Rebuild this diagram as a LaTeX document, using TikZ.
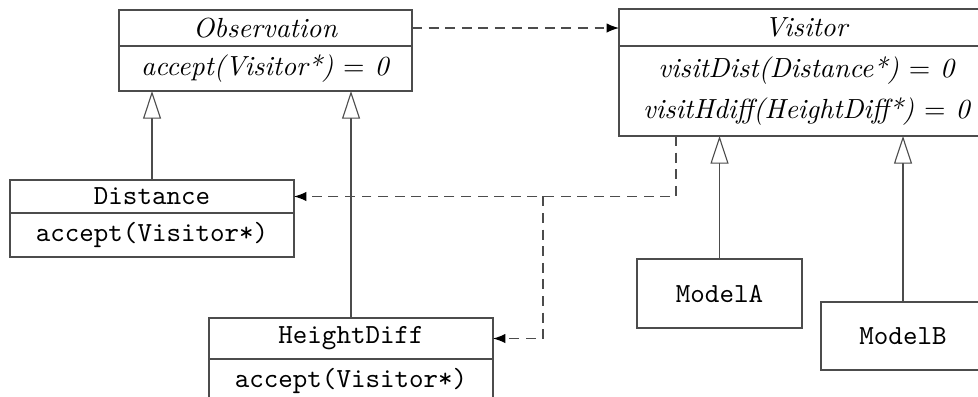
\documentclass[tikz,border=0pt]{standalone}
\usetikzlibrary{arrows.meta,positioning}

\tikzset{
  box/.style={draw=black!70, rectangle, inner sep=0pt, outer sep=0pt, align=center},
  inherit/.style={draw=black!70, -{Triangle[open,length=10pt,width=6.5pt,fill=white]}},
  uses/.style={draw=black!70, dash pattern=on 3.6pt off 2.4pt, -{Latex[length=4.5pt,width=3.4pt,color=black]}},
}

\begin{document}
\begin{tikzpicture}

\clip (0,0) rectangle (12.429,-5.033);

% abstract classes
\node [box, minimum width=3.724cm, minimum height=0.458cm] (obs) at (3.374,-0.356) {\textit{Observation}};
\node [box, minimum width=3.724cm, minimum height=0.572cm, below=0pt of obs] (obsops) {\textit{accept(Visitor*) $=$ 0}};

\node [box, minimum width=4.779cm, minimum height=0.470cm] (vis) at (10.256,-0.349) {\textit{Visitor}};
\node [box, minimum width=4.779cm, minimum height=1.144cm, below=0pt of vis] (visops)
  {\textit{visitDist(Distance*) $=$ 0}\\[3pt]\textit{visitHdiff(HeightDiff*) $=$ 0}};

% concrete observations
\node [box, minimum width=3.609cm, minimum height=0.419cm] (dist) at (1.932,-2.497) {\texttt{Distance}};
\node [box, minimum width=3.609cm, minimum height=0.559cm, below=0pt of dist] (distops) {\texttt{accept(Visitor*)}};

\node [box, minimum width=3.609cm, minimum height=0.521cm] (hd) at (4.461,-4.302) {\texttt{HeightDiff}};
\node [box, minimum width=3.609cm, minimum height=0.559cm, below=0pt of hd] (hdops) {\texttt{accept(Visitor*)}};

% concrete visitors
\node [box, minimum width=2.097cm, minimum height=0.877cm] (ma) at (9.144,-3.730) {\texttt{ModelA}};
\node [box, minimum width=2.084cm, minimum height=0.864cm] (mb) at (11.476,-4.270) {\texttt{ModelB}};

% generalisation
\draw [inherit] (dist.north) -- (dist.north |- obsops.south);
\draw [inherit] (hd.north) -- (hd.north |- obsops.south);
\draw [inherit] (ma.north) -- (ma.north |- visops.south);
\draw [inherit] (mb.north) -- (mb.north |- visops.south);

% dependencies
\coordinate (vdown) at (8.591,0);
\coordinate (split) at (6.901,0);
\draw [uses] (obs.east) -- (obs.east -| vis.west);
\draw [uses] (vdown |- visops.south) |- (dist.east);
\draw [uses] (split |- dist.east) |- (hd.east);

\end{tikzpicture}
\end{document}
